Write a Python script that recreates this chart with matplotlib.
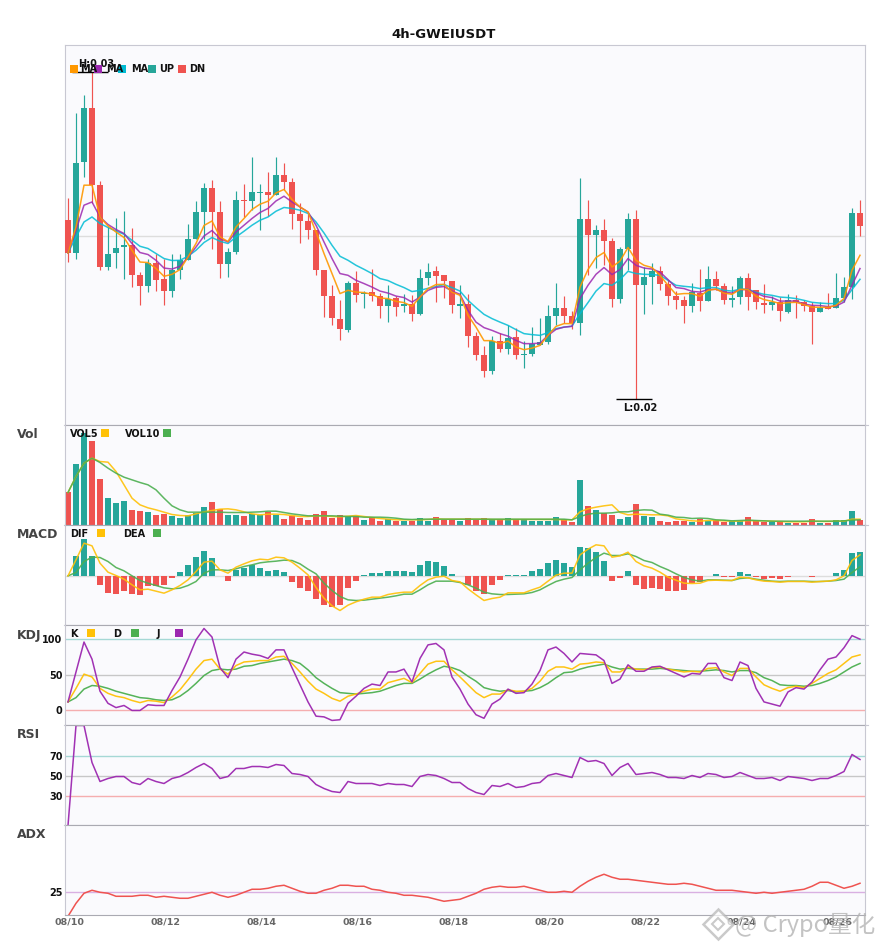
import matplotlib
matplotlib.use("Agg")
import matplotlib.pyplot as plt
from matplotlib.lines import Line2D
from matplotlib.patches import Rectangle
import numpy as np

# prices are written in units of 1e-5
opens = [2564,2433,2797,3011,2704,2377,2433,2457,2464,2344,
         2300,2393,2328,2281,2364,2404,2488,2596,2692,2596,
         2389,2436,2644,2640,2672,2676,2664,2744,2716,2588,
         2560,2524,2364,2260,2168,2124,2312,2268,2276,2260,
         2220,2252,2220,2228,2188,2332,2360,2344,2320,2220,
         2228,2100,2024,1960,2080,2048,2096,2024,2028,2064,
         2076,2180,2212,2180,2152,2568,2504,2524,2480,2248,
         2448,2568,2304,2336,2360,2308,2260,2244,2220,2272,
         2240,2328,2300,2244,2256,2332,2284,2232,2224,2236,
         2196,2244,2236,2220,2196,2216,2212,2252,2296,2592]
closes = [2433,2791,3011,2704,2377,2431,2455,2464,2344,2300,
          2393,2324,2281,2364,2404,2488,2596,2692,2596,2389,
          2436,2644,2640,2676,2676,2664,2744,2716,2588,2560,
          2524,2364,2260,2172,2128,2312,2264,2273,2260,2220,
          2248,2216,2228,2188,2332,2356,2340,2320,2224,2228,
          2100,2024,1960,2080,2048,2092,2024,2028,2068,2076,
          2180,2212,2180,2152,2568,2504,2524,2480,2248,2448,
          2568,2304,2336,2360,2308,2260,2244,2220,2276,2240,
          2328,2300,2244,2252,2332,2256,2236,2224,2236,2200,
          2244,2236,2220,2196,2212,2208,2252,2296,2592,2540]
highs = [2651,2991,3064,3157,2720,2537,2573,2600,2533,2357,
         2411,2431,2411,2428,2428,2548,2640,2711,2724,2640,
         2455,2680,2708,2817,2708,2757,2817,2792,2732,2631,
         2588,2524,2364,2304,2244,2320,2360,2280,2368,2272,
         2304,2260,2268,2264,2368,2392,2380,2344,2320,2304,
         2268,2116,2060,2100,2112,2144,2132,2080,2136,2172,
         2224,2312,2260,2200,2732,2644,2544,2568,2492,2456,
         2592,2604,2377,2392,2380,2324,2280,2260,2312,2368,
         2380,2360,2312,2300,2340,2352,2284,2308,2260,2256,
         2268,2264,2244,2236,2236,2272,2352,2336,2612,2644]
lows = [2397,2411,2737,2631,2364,2364,2373,2328,2297,2224,
        2277,2281,2224,2257,2328,2404,2488,2488,2448,2333,
        2337,2431,2577,2604,2524,2580,2664,2684,2528,2473,
        2488,2344,2177,2144,2084,2117,2236,2212,2240,2172,
        2156,2180,2196,2160,2184,2304,2236,2252,2192,2172,
        2056,2004,1936,1948,2036,2028,2008,1972,2020,2064,
        2068,2144,2152,2128,2104,2344,2372,2384,2216,2232,
        2364,1851,2188,2228,2284,2224,2208,2152,2196,2200,
        2240,2284,2228,2216,2228,2204,2208,2192,2204,2160,
        2192,2172,2200,2068,2196,2208,2212,2236,2248,2500]
ma_fast = [2433,2537,2704,2704,2577,2541,2517,2495,2444,2397,
           2395,2371,2340,2348,2367,2417,2471,2543,2561,2497,
           2479,2537,2571,2607,2628,2640,2673,2687,2647,2617,
           2597,2517,2431,2351,2271,2284,2277,2275,2268,2253,
           2251,2240,2235,2220,2257,2291,2307,2308,2277,2264,
           2184,2137,2083,2083,2071,2081,2057,2047,2053,2064,
           2104,2140,2151,2151,2297,2367,2415,2435,2377,2401,
           2455,2404,2384,2375,2344,2304,2268,2271,2271,2260,
           2284,2289,2273,2268,2288,2287,2260,2247,2240,2231,
           2235,2236,2227,2217,2216,2216,2224,2251,2364,2424]
ma_mid = [2433,2524,2624,2637,2577,2547,2527,2511,2471,2435,
          2427,2404,2373,2369,2380,2417,2457,2501,2523,2491,
          2477,2517,2544,2571,2595,2611,2641,2660,2637,2617,
          2597,2544,2477,2411,2351,2344,2324,2311,2297,2281,
          2273,2261,2255,2237,2257,2284,2296,2299,2281,2268,
          2204,2157,2135,2124,2111,2101,2084,2071,2071,2073,
          2104,2128,2137,2140,2251,2304,2348,2375,2347,2367,
          2411,2384,2373,2369,2357,2327,2295,2291,2280,2277,
          2287,2288,2277,2273,2287,2287,2273,2260,2255,2241,
          2241,2241,2229,2224,2223,2219,2221,2237,2304,2371]
ma_slow = [2433,2497,2557,2577,2551,2535,2521,2508,2484,2460,
           2451,2431,2411,2403,2404,2420,2444,2475,2495,2480,
           2471,2497,2520,2544,2564,2577,2600,2615,2611,2604,
           2591,2557,2513,2464,2420,2404,2384,2368,2351,2331,
           2323,2308,2295,2279,2284,2292,2299,2307,2295,2281,
           2244,2215,2188,2171,2157,2144,2127,2111,2107,2104,
           2115,2131,2137,2141,2191,2235,2281,2311,2304,2327,
           2360,2351,2348,2347,2344,2324,2304,2300,2297,2291,
           2295,2295,2284,2281,2289,2288,2276,2268,2264,2257,
           2255,2251,2244,2236,2233,2231,2231,2244,2287,2328]

volume = [98,182,275,251,137,80,65,71,44,41,
          38,29,32,26,20,29,35,53,68,46,
          29,29,26,32,29,38,29,17,27,20,
          14,32,41,20,29,26,26,14,23,11,
          17,11,11,11,20,11,23,14,14,11,
          20,14,20,17,17,20,17,17,11,11,
          11,23,17,8,134,56,44,35,29,17,
          23,62,26,23,11,8,11,11,8,17,
          11,14,8,11,11,23,11,8,8,8,
          5,5,5,17,5,5,14,14,41,14]
vol5 = [96,144,184,199,189,187,159,119,79,59,
        50,44,37,30,27,26,32,38,42,46,
        47,44,38,32,29,31,31,30,27,24,
        24,26,26,24,23,25,27,24,21,18,
        16,14,14,14,14,15,17,16,16,16,
        16,16,16,15,15,15,15,15,15,15,
        15,15,14,14,38,47,52,56,59,36,
        29,31,30,29,29,26,17,14,11,10,
        12,12,11,10,10,12,11,11,10,9,
        8,8,8,10,9,9,10,10,16,16]
vol10 = [96,144,184,199,186,169,154,142,134,126,
         119,104,79,56,44,37,37,37,37,37,
         36,36,36,37,38,40,40,36,32,29,
         26,26,26,26,25,24,24,22,22,22,
         21,19,16,15,16,16,16,16,16,16,
         16,16,16,16,16,16,16,16,16,16,
         16,16,16,14,24,31,34,34,35,38,
         38,42,44,43,31,28,22,21,18,19,
         18,14,13,11,12,13,12,11,10,10,
         10,10,10,10,10,10,10,11,13,14]

macd_hist = [0,60,111,60,-27,-51,-54,-45,-54,-57,
             -32,-30,-27,-6,12,33,57,75,54,0,
             -15,18,24,33,24,15,18,12,-18,-36,
             -45,-69,-87,-93,-87,-36,-15,3,9,9,
             15,15,15,12,33,45,42,30,6,-2,
             -27,-45,-54,-27,-12,3,3,3,15,21,
             39,48,39,27,87,84,72,45,-15,-6,
             15,-27,-39,-36,-39,-45,-45,-42,-21,-18,
             0,6,-3,-3,12,6,-3,-9,-6,-9,
             -3,0,0,-3,0,0,9,18,69,72]
dif = [0,48,98,90,38,11,1,-10,-27,-42,
       -40,-46,-52,-42,-29,-12,13,41,44,18,
       8,26,36,45,50,48,56,54,41,23,
       3,-35,-67,-90,-104,-88,-78,-70,-64,-64,
       -56,-52,-49,-49,-29,-12,-4,-1,-14,-18,
       -39,-57,-74,-68,-64,-51,-51,-51,-42,-34,
       -16,2,8,8,63,80,93,90,56,60,
       71,43,30,23,11,-4,-13,-22,-23,-22,
       -14,-13,-14,-14,-4,-6,-12,-16,-17,-19,
       -17,-17,-17,-19,-17,-16,-12,0,46,63]
dea = [0,10,43,56,55,43,25,15,0,-14,
       -22,-29,-36,-39,-37,-29,-17,8,18,18,
       16,21,28,33,39,42,44,47,46,36,
       20,6,-22,-44,-62,-72,-74,-73,-70,-67,
       -64,-60,-55,-55,-42,-27,-16,-16,-16,-20,
       -27,-37,-49,-54,-56,-56,-55,-54,-50,-42,
       -29,-17,-10,-5,18,38,55,68,61,61,
       66,58,46,40,28,18,6,-5,-12,-16,
       -12,-12,-13,-14,-8,-6,-10,-13,-16,-17,
       -16,-16,-16,-17,-17,-16,-14,-10,10,27]

kdj_k = [12,31,51,47,31,24,20,18,14,11,
         14,13,11,19,29,43,58,70,72,58,
         51,63,68,69,70,70,75,76,66,54,
         41,30,24,17,13,20,23,27,30,30,
         39,42,45,39,52,65,69,69,57,47,
         36,25,18,23,23,29,27,27,31,41,
         55,61,61,58,65,66,68,67,54,54,
         61,58,57,60,61,58,56,54,55,54,
         59,60,54,49,59,59,47,36,31,27,
         32,34,32,38,45,52,57,66,75,78]
kdj_d = [12,18,30,35,34,31,27,24,21,18,
         17,15,14,15,20,28,38,49,56,58,
         57,58,62,63,66,68,70,72,70,66,
         57,46,38,31,25,24,23,24,25,27,
         31,35,38,38,44,51,57,62,60,56,
         48,41,32,29,27,28,26,27,28,32,
         38,46,53,54,58,61,63,65,61,58,
         59,58,58,58,59,58,57,56,55,55,
         56,57,56,54,56,56,53,46,42,36,
         35,35,34,35,38,42,47,54,61,66]
kdj_j = [12,54,96,72,27,10,4,7,0,0,
         8,7,7,28,47,72,99,115,103,60,
         46,72,82,79,77,73,85,85,60,36,
         12,-8,-9,-14,-13,10,20,31,37,35,
         54,54,58,40,73,92,94,85,47,30,
         9,-6,-11,9,16,30,24,25,37,56,
         85,89,80,68,80,79,78,70,38,44,
         64,55,55,61,62,57,52,47,52,51,
         66,66,46,42,68,63,31,12,9,6,
         26,32,30,40,57,72,75,88,105,100]

rsi = [0,100,100,63,44,47,49,49,43,41,
       47,44,42,47,49,53,58,62,57,47,
       49,57,57,59,59,58,61,60,52,51,
       49,41,37,34,33,44,42,42,42,40,
       42,41,41,39,49,51,50,47,43,43,
       37,33,31,40,39,42,38,39,42,43,
       50,52,50,48,68,64,65,62,50,58,
       62,51,52,53,51,48,48,47,50,48,
       52,51,48,49,53,50,47,47,48,45,
       49,48,47,45,47,47,50,54,71,66]
adx = [1,14,24,27,25,24,21,21,21,22,
       22,20,21,20,19,19,21,23,25,22,
       20,22,25,28,28,29,31,32,29,26,
       24,24,27,29,32,32,31,31,28,27,
       25,24,22,22,21,20,18,16,17,18,
       21,24,28,30,31,30,30,31,29,27,
       25,25,26,25,31,36,40,43,40,38,
       38,37,36,35,34,33,33,34,33,31,
       29,27,27,27,26,25,24,25,24,25,
       26,27,28,31,35,35,32,29,31,34]

date_labels = ['08/10','08/12','08/14','08/16','08/18','08/20','08/22','08/24','08/26']

UP = '#26a69a'
DN = '#ef5350'
ORANGE = '#ff9800'
PURPLE = '#9c27b0'
CYAN = '#00bcd4'
YELLOW = '#ffc107'
GREEN = '#4caf50'
LINE_W = 1.1

W, H = 885, 950
fig = plt.figure(figsize=(W / 100, H / 100), dpi=100, facecolor='white')

def make_pane(top, bottom, ylim, first=False):
    ax = fig.add_axes([65.2 / W, 1 - bottom / H, 800 / W, (bottom - top) / H])
    ax.set_facecolor('#fafafd')
    ax.set_xlim(-0.35, 99.65)
    ax.set_ylim(*ylim)
    ax.set_xticks([])
    ax.set_yticks([])
    for side in ['left', 'right']:
        ax.spines[side].set_color('#c8c8d2')
    ax.spines['top'].set_color('#c8c8d2' if first else '#aaaab2')
    ax.spines['bottom'].set_color('#aaaab2')
    if not first:
        # little marks at the pane corners
        for xa, xb in [(63.5, 65.2), (865.2, 868)]:
            fig.add_artist(Line2D([xa / W, xb / W], [1 - top / H] * 2, color='#c8c8d2', lw=0.8,
                                  transform=fig.transFigure))
    return ax

def pane_title(text, y):
    fig.text(17 / W, 1 - y / H, text, fontsize=9, fontweight='bold', color='#444444', va='center')

def legend_box(x, y, color):
    fig.add_artist(Rectangle((x / W, 1 - (y + 4) / H), 8 / W, 8 / H, transform=fig.transFigure,
                             facecolor=color, edgecolor='none', zorder=10))

def legend_text(x, y, text):
    fig.text(x / W, 1 - y / H, text, fontsize=7, fontweight='bold', color='#111111', va='center', zorder=11)

idx = np.arange(len(opens))
o = np.array(opens) / 1e5
c = np.array(closes) / 1e5
hi = np.array(highs) / 1e5
lo = np.array(lows) / 1e5
colors = [UP if closes[i] >= opens[i] else DN for i in idx]

# price pane
ax1 = make_pane(45, 424.5, (0.01748, 0.03264), first=True)
ax1.axhline(0.025, color='#dddddd', lw=1)
ax1.vlines(idx, lo, hi, colors=colors, lw=0.85, zorder=2)
ax1.bar(idx, np.abs(c - o), bottom=np.minimum(o, c), width=0.75, color=colors, zorder=3)
ax1.plot(idx, np.array(ma_slow) / 1e5, color=CYAN, lw=LINE_W, alpha=0.85, zorder=4)
ax1.plot(idx, np.array(ma_mid) / 1e5, color=PURPLE, lw=LINE_W, alpha=0.85, zorder=5)
ax1.plot(idx, np.array(ma_fast) / 1e5, color=ORANGE, lw=LINE_W, alpha=0.9, zorder=6)

top_i = int(np.argmax(highs))
low_i = int(np.argmin(lows))
ax1.hlines(hi[top_i], top_i - 2.5, top_i + 2, color='black', lw=1, zorder=7)
ax1.hlines(lo[low_i], low_i - 2.5, low_i + 2, color='black', lw=1, zorder=7)
ax1.annotate('H:0.03', (top_i, hi[top_i]), xytext=(4, 3), textcoords='offset pixels', ha='center', va='bottom',
             fontsize=7, fontweight='bold', color='#111111', zorder=8)
ax1.annotate('L:0.02', (low_i, lo[low_i]), xytext=(4, -4), textcoords='offset pixels', ha='center', va='top',
             fontsize=7, fontweight='bold', color='#111111', zorder=8)

legend_box(70, 69, ORANGE)
legend_text(80, 69, 'MA')
legend_box(94, 69, PURPLE)
legend_text(106, 69, 'MA')
legend_box(118, 69, CYAN)
legend_text(131, 69, 'MA')
legend_box(148, 69, UP)
legend_text(159, 69, 'UP')
legend_box(178, 69, DN)
legend_text(189, 69, 'DN')

# volume
ax2 = make_pane(424.5, 524.5, (0, 300))
ax2.bar(idx, volume, width=0.75, color=colors, zorder=2)
ax2.plot(idx, vol5, color=YELLOW, lw=LINE_W, alpha=0.9, zorder=3)
ax2.plot(idx, vol10, color=GREEN, lw=LINE_W, alpha=0.9, zorder=4)
pane_title('Vol', 435)
legend_text(70, 434, 'VOL5')
legend_box(101, 433, YELLOW)
legend_text(125, 434, 'VOL10')
legend_box(163, 433, GREEN)

# macd
ax3 = make_pane(524.5, 624.5, (-146, 154))
ax3.axhline(0, color='#dddddd', lw=1, zorder=1)
ax3.bar(idx, macd_hist, width=0.75, color=[UP if v >= 0 else DN for v in macd_hist], zorder=2)
ax3.plot(idx, dif, color=YELLOW, lw=LINE_W, alpha=0.9, zorder=4)
ax3.plot(idx, dea, color=GREEN, lw=LINE_W, alpha=0.9, zorder=3)
pane_title('MACD', 535)
legend_text(70, 534, 'DIF')
legend_box(97, 533, YELLOW)
legend_text(123, 534, 'DEA')
legend_box(153, 533, GREEN)

# kdj
ax4 = make_pane(624.5, 724.5, (-19.7, 120.6))
ax4.axhline(100, color=UP, lw=1, alpha=0.4)
ax4.axhline(50, color='#bbbbbb', lw=1, alpha=0.8)
ax4.axhline(0, color=DN, lw=1, alpha=0.45)
ax4.plot(idx, kdj_d, color=GREEN, lw=LINE_W, alpha=0.95)
ax4.plot(idx, kdj_k, color=YELLOW, lw=LINE_W, alpha=0.95)
ax4.plot(idx, kdj_j, color=PURPLE, lw=LINE_W, alpha=0.95)
pane_title('KDJ', 635)
legend_text(70, 634, 'K')
legend_box(87, 633, YELLOW)
legend_text(113, 634, 'D')
legend_box(131, 633, GREEN)
legend_text(157, 634, 'J')
legend_box(175, 633, PURPLE)

# rsi
ax5 = make_pane(724.5, 824.5, (1, 101))
ax5.axhline(70, color=UP, lw=1, alpha=0.4)
ax5.axhline(50, color='#bbbbbb', lw=1, alpha=0.8)
ax5.axhline(30, color=DN, lw=1, alpha=0.45)
ax5.plot(idx, rsi, color=PURPLE, lw=LINE_W, alpha=0.95)
pane_title('RSI', 735)

# adx
ax6 = make_pane(824.5, 915.3, (2, 92.7))
ax6.axhline(25, color=PURPLE, lw=1, alpha=0.35)
ax6.plot(idx, adx, color=DN, lw=LINE_W)
pane_title('ADX', 835)
ax6.set_xticks(np.arange(len(date_labels)) * 12 + 0.2)
ax6.set_xticklabels(date_labels, fontsize=6.8, fontweight='bold', color='#666666')
ax6.tick_params(axis='x', length=0, pad=1.5)

for ax, ticks in [(ax4, [0, 50, 100]), (ax5, [30, 50, 70]), (ax6, [25])]:
    ax.set_yticks(ticks)
    ax.set_yticklabels([str(t) for t in ticks], fontsize=7, fontweight='bold', color='#111111')
    ax.tick_params(axis='y', length=0, pad=2)

fig.text(444 / W, 1 - 34.5 / H, '4h-GWEIUSDT', fontsize=9.5, fontweight='bold', color='#111111', ha='center', va='center')

# watermark
wm = '#b4b4b4'
fig.add_artist(Line2D([718 / W], [1 - 924 / H], marker='D', ms=15, mfc='white', mec=wm, mew=1.8,
                      transform=fig.transFigure, alpha=0.7, zorder=20))
fig.add_artist(Line2D([718 / W], [1 - 924 / H], marker='D', ms=6, mfc='none', mec=wm, mew=1.5,
                      transform=fig.transFigure, alpha=0.7, zorder=20))
fig.text(735 / W, 1 - 925 / H, '@ Crypo量化', fontsize=17, color=wm, alpha=0.8, va='center', zorder=20,
         family=['Noto Sans CJK SC', 'DejaVu Sans'])

fig.savefig('out.png', dpi=100)
